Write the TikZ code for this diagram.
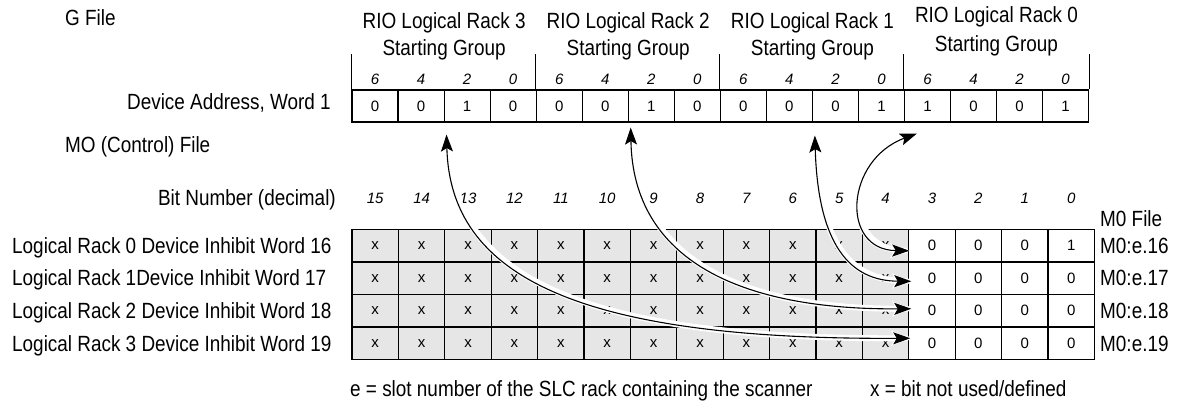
\documentclass[tikz,border=0pt]{standalone}
\usepackage{fontspec}
\setmainfont{Liberation Sans}
\newfontfamily\cnd{Liberation Sans}[FakeStretch=0.86]
\usetikzlibrary{arrows.meta}
\definecolor{cellgray}{HTML}{E6E6E6}
\tikzset{
 lbl/.style={font=\cnd\fontsize{22}{26}\selectfont, inner sep=0pt},
 bitn/.style={font=\itshape\fontsize{15}{18}\selectfont, inner sep=0pt, anchor=base},
 tcell/.style={draw, line width=1.1pt, minimum width=46.04pt, minimum height=32pt, inner sep=0pt, font=\fontsize{15}{18}\selectfont},
 bcell/.style={draw, line width=1.1pt, minimum width=46.4pt, minimum height=32.5pt, inner sep=0pt, font=\fontsize{15}{18}\selectfont},
 grp/.style={line width=1.1pt},
 halo/.style={draw=white, line width=6pt, line cap=round, shorten <=4pt, shorten >=4pt},
 halotip/.style={draw=white, line width=2.5pt, {Stealth[length=19pt,width=15pt,inset=4pt]}-{Stealth[length=19pt,width=15pt,inset=4pt]}},
 link/.style={draw=black, line width=1.1pt, {Stealth[length=17pt,width=12pt,inset=3.5pt]}-{Stealth[length=17pt,width=12pt,inset=3.5pt]}},
}
\begin{document}
\begin{tikzpicture}[x=1pt,y=-1pt]
\useasboundingbox (0,0) rectangle (1181,406);

% left labels
\node[lbl, anchor=base west] (gf) at (65,26) {G File};
\node[lbl, anchor=base east] (da) at (331,110) {Device Address, Word 1};
\node[lbl, anchor=base west] (mo) at (65,153) {MO (Control) File};
\node[lbl, anchor=base east] (bnum) at (336,206) {Bit Number (decimal)};

% group headers
\node[lbl, anchor=base] (h3a) at (444.1,29) {RIO Logical Rack 3};
\node[lbl, anchor=base] (h3b) at (444.1,55.5) {Starting Group};
\node[lbl, anchor=base] (h2a) at (628.2,29) {RIO Logical Rack 2};
\node[lbl, anchor=base] (h2b) at (628.2,55.5) {Starting Group};
\node[lbl, anchor=base] (h1a) at (812.4,29) {RIO Logical Rack 1};
\node[lbl, anchor=base] (h1b) at (812.4,55.5) {Starting Group};
\node[lbl, anchor=base] (h0a) at (996.5,23) {RIO Logical Rack 0};
\node[lbl, anchor=base] (h0b) at (996.5,51.5) {Starting Group};

% top table
\foreach \v [count=\i from 0] in {0,0,1,0,0,0,1,0,0,0,0,1,1,0,0,1}{
  \node[tcell] (t\i) at ({352+46.04*(\i+0.5)},106) {\v};
  \pgfmathtruncatemacro\bl{6-2*mod(\i,4)}
  \node[bitn] (tb\i) at ({352+46.04*(\i+0.5)},85) {\bl};
}
\foreach \g in {0,4,8,12}{
  \draw[grp] (t\g.north west) -- ++(0,-35);
}
\draw[grp] (t15.north east) -- ++(0,-35);

% bottom bit numbers
\foreach \c in {0,...,15}{
  \pgfmathtruncatemacro\bn{15-\c}
  \node[bitn] (bb\c) at ({352+46.4*(\c+0.5)},204) {\bn};
}

% bottom table
\foreach \r in {0,...,3}{
  \foreach \c in {0,...,15}{
    \ifnum\c<12
      \node[bcell, fill=cellgray] (b\r-\c) at ({352+46.4*(\c+0.5)},{229.5+32.5*(\r+0.5)}) {x};
    \else
      \node[bcell, fill=white] (b\r-\c) at ({352+46.4*(\c+0.5)},{229.5+32.5*(\r+0.5)}) {\ifnum\r=0 \ifnum\c=15 1\else 0\fi\else 0\fi};
    \fi
  }
}

% row labels
\node[lbl, anchor=base west] (r0) at (12,253.5) {Logical Rack 0 Device Inhibit Word 16};
\node[lbl, anchor=base west] (r1) at (12,286) {Logical Rack 1Device Inhibit Word 17};
\node[lbl, anchor=base west] (r2) at (12,318.5) {Logical Rack 2 Device Inhibit Word 18};
\node[lbl, anchor=base west] (r3) at (12,351) {Logical Rack 3 Device Inhibit Word 19};

% M0 file labels
\node[lbl, anchor=base west] (mf) at (1100,227) {M0 File};
\node[lbl, anchor=base west] (m0) at (1100,253.5) {M0:e.16};
\node[lbl, anchor=base west] (m1) at (1100,286) {M0:e.17};
\node[lbl, anchor=base west] (m2) at (1100,318.5) {M0:e.18};
\node[lbl, anchor=base west] (m3) at (1100,351) {M0:e.19};

% notes
\node[lbl, anchor=base west] (n1) at (350,396) {e = slot number of the SLC rack containing the scanner};
\node[lbl, anchor=base west] (n2) at (870,396) {x = bit not used/defined};

% arrow end points
\coordinate (a3) at ([xshift=3pt,yshift=-12pt]t2.south west);
\coordinate (c3) at ([xshift=2pt,yshift=5pt]b3-12.west);
\coordinate (a2) at ([xshift=3pt,yshift=-5pt]t6.south west);
\coordinate (c2) at ([xshift=3pt,yshift=2pt]b2-12.west);
\coordinate (a1) at ([xshift=3pt,yshift=-13pt]t10.south west);
\coordinate (c1) at ([xshift=3pt,yshift=-3pt]b1-12.west);
\coordinate (a0) at ([xshift=13pt,yshift=-11pt]t12.south west);
\coordinate (c0) at ([xshift=1pt,yshift=-5pt]b0-12.west);

% halos
\draw[halo] (a3) .. controls (450,275) and (575,340) .. (c3);
\draw[halo] (a2) .. controls (633,260) and (740,310) .. (c2);
\draw[halo] (a1) .. controls (818,245) and (850,281) .. (c1);
\draw[halo] (a0) .. controls (845,160) and (840,250) .. (c0);
\draw[halotip] (a3) .. controls (450,275) and (575,340) .. (c3);
\draw[halotip] (a2) .. controls (633,260) and (740,310) .. (c2);
\draw[halotip] (a1) .. controls (818,245) and (850,281) .. (c1);
\draw[halotip] (a0) .. controls (845,160) and (840,250) .. (c0);
% links
\draw[link] (a3) .. controls (450,275) and (575,340) .. (c3);
\draw[link] (a2) .. controls (633,260) and (740,310) .. (c2);
\draw[link] (a1) .. controls (818,245) and (850,281) .. (c1);
\draw[link] (a0) .. controls (845,160) and (840,250) .. (c0);
\end{tikzpicture}
\end{document}
